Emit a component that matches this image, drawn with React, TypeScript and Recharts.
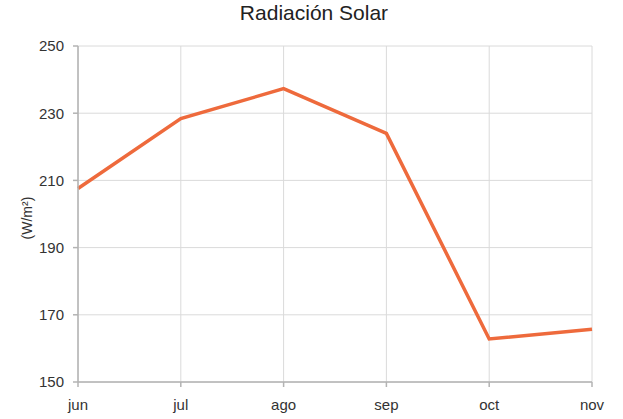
import React from 'react';
import { LineChart, Line, XAxis, YAxis, CartesianGrid, Label } from 'recharts';

const months = ['jun', 'jul', 'ago', 'sep', 'oct', 'nov'];
const radiation = [207.6, 228.4, 237.3, 224.0, 162.8, 165.7];
const yTicks = [150, 170, 190, 210, 230, 250];

const data = months.map((m, i) => ({ month: m, value: radiation[i] }));

const font = '"Liberation Sans", Arial, sans-serif';

const App: React.FC = () => {
  return (
    <div style={{ position: 'absolute', left: 0, top: 0, width: 623, height: 419, background: '#fff', fontFamily: font }}>
      <div style={{ position: 'absolute', left: 0, top: 1, width: 628, textAlign: 'center', fontSize: 21, color: '#222' }}>
        Radiación Solar
      </div>
      <LineChart width={623} height={419} data={data} margin={{ top: 46, right: 31, left: 28, bottom: 7 }}>
        <CartesianGrid stroke="#dadada" strokeWidth={1} />
        <XAxis
          dataKey="month"
          height={30}
          tick={{ fontSize: 15, fill: '#333', fontFamily: font }}
          tickSize={5}
          tickMargin={12}
          stroke="#b3b3b3"
          strokeWidth={1.5}
        />
        <YAxis
          width={50}
          domain={[150, 250]}
          ticks={yTicks}
          tick={{ fontSize: 15, fill: '#333', fontFamily: font }}
          tickSize={5}
          tickMargin={9}
          stroke="#b3b3b3"
          strokeWidth={1.5}
        >
          <Label value="(W/m²)" angle={-90} position="insideLeft" offset={-1} dy={4} style={{ fontSize: 14, fill: '#333', fontFamily: font, textAnchor: 'middle' }} />
        </YAxis>
        <Line type="linear" dataKey="value" stroke="#ee6a3c" strokeWidth={3.5} dot={false} isAnimationActive={false} />
      </LineChart>
    </div>
  );
};

export default App;
